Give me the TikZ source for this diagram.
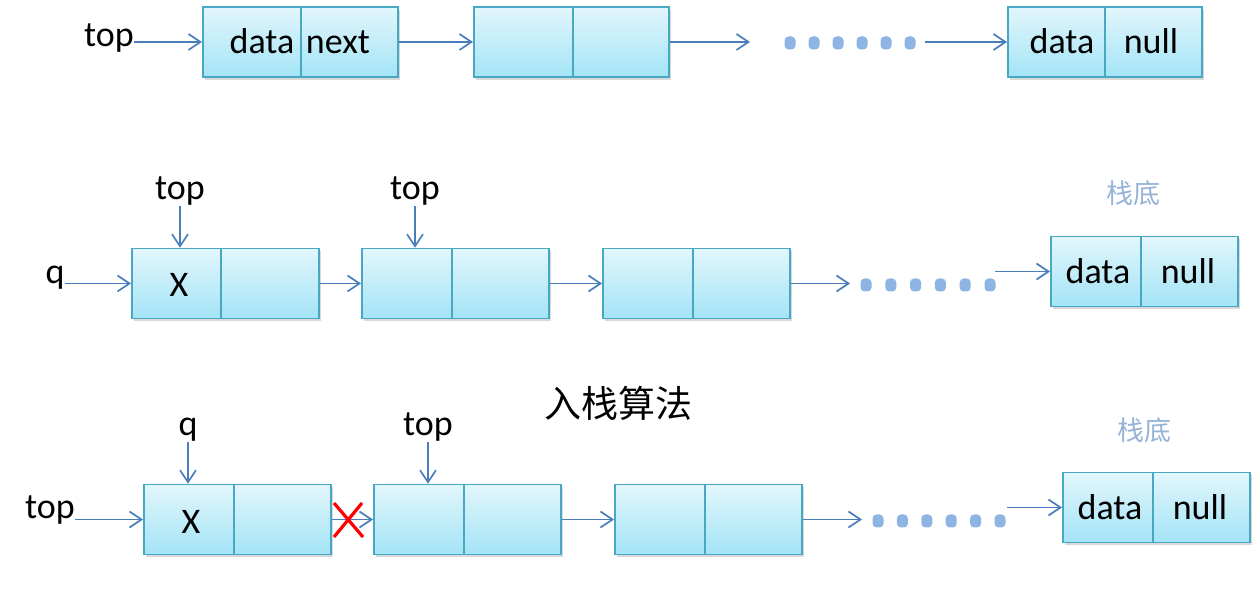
\documentclass[tikz,border=0pt]{standalone}
\usepackage{fontspec}
\setmainfont{Carlito}
\newfontfamily\cjk{Noto Sans CJK SC}
\usetikzlibrary{arrows.meta,shadows}
\definecolor{arrc}{RGB}{74,126,187}
\definecolor{boxc}{RGB}{72,168,194}
\definecolor{celltop}{RGB}{226,246,252}
\definecolor{cellbot}{RGB}{163,228,246}
\definecolor{dotc}{RGB}{141,180,226}
\definecolor{botc}{RGB}{149,179,215}
\begin{document}
\begin{tikzpicture}[x=0.5pt,y=-0.5pt,
 cell/.style={draw=boxc, line width=0.8pt, top color=celltop, bottom color=cellbot,
   minimum height=35pt, inner sep=0pt, anchor=west,
   drop shadow={shadow xshift=1pt, shadow yshift=-1.5pt, opacity=0.3}},
 arr/.style={draw=arrc, line width=0.85pt, -{Straight Barb[length=6pt,width=8pt,line width=0.85pt]}},
 lbl/.style={font=\fontsize{18}{20}\selectfont, inner sep=0pt, anchor=base},
 dotb/.style={fill=dotc, rounded corners=2pt, minimum width=5.5pt, minimum height=6.5pt, inner sep=0pt},
 cross/.style={draw=red, line width=1.6pt}
]
\useasboundingbox (0,0) rectangle (1260,593);

% ---------- Row 1 ----------
\node[cell, minimum width=49pt]   (r1a) at (202,42) {};
\node[cell, minimum width=48.5pt] (r1b) at (300,42) {};
\node[cell, minimum width=49.5pt] (r1c) at (473,42) {};
\node[cell, minimum width=48pt]   (r1d) at (572,42) {};
\node[cell, minimum width=48.5pt] (r1e) at (1007,42) {};
\node[cell, minimum width=48.5pt] (r1f) at (1104,42) {};
\node[lbl] (r1at) at (262,54) {data};
\node[lbl] (r1bt) at (338,54) {next};
\node[lbl] (r1et) at (1062,54) {data};
\node[lbl] (r1ft) at (1151,54) {null};
\node[lbl] (t1) at (109,47) {top};
\draw[arr] (t1.east |- r1a.west) -- (r1a.west);
\draw[arr] (r1b.east) -- (r1c.west);
\coordinate (e1) at (750,42);
\draw[arr] (r1d.east) -- (e1);
\foreach \i in {0,...,5} \node[dotb] (d1\i) at (790+24*\i,43) {};
\coordinate (s1) at (925,42);
\draw[arr] (s1) -- (r1e.west);

% ---------- Row 2 ----------
\node[cell, minimum width=44.5pt] (r2a) at (131,283.5) {};
\node[cell, minimum width=49pt]   (r2b) at (220,283.5) {};
\node[cell, minimum width=45pt]   (r2c) at (361,283.5) {};
\node[cell, minimum width=48.5pt] (r2d) at (451,283.5) {};
\node[cell, minimum width=45pt]   (r2e) at (602,283.5) {};
\node[cell, minimum width=48.5pt] (r2f) at (692,283.5) {};
\node[cell, minimum width=45pt]   (r2g) at (1050,271.5) {};
\node[cell, minimum width=48.5pt] (r2h) at (1140,271.5) {};
\node[lbl] (r2at) at (179,297) {X};
\node[lbl] (r2gt) at (1098,284) {data};
\node[lbl] (r2ht) at (1188,284) {null};
\node[lbl] (q2) at (55,284) {q};
\node[lbl] (t2a) at (180,200) {top};
\node[lbl] (t2b) at (415,200) {top};
\node[font=\cjk\fontsize{13.5}{15}\selectfont, text=botc, inner sep=0pt] (b2) at (1133,193) {栈底};
\draw[arr] (q2.east |- r2a.west) -- (r2a.west);
\draw[arr] (t2a.south) -- (t2a.south |- r2a.north);
\draw[arr] (t2b.south) -- (t2b.south |- r2c.north);
\draw[arr] (r2b.east) -- (r2c.west);
\draw[arr] (r2d.east) -- (r2e.west);
\coordinate (e2) at (850,283.5);
\draw[arr] (r2f.east) -- (e2);
\foreach \i in {0,...,5} \node[dotb] (d2\i) at (866+24.8*\i,285) {};
\coordinate (s2) at (995,271.5);
\draw[arr] (s2) -- (r2g.west);

% ---------- Title ----------
\node[font=\cjk\fontsize{18.5}{20}\selectfont, inner sep=0pt] (title) at (618,403) {入栈算法};

% ---------- Row 3 ----------
\node[cell, minimum width=45pt]   (r3a) at (143,519.5) {};
\node[cell, minimum width=48.5pt] (r3b) at (233,519.5) {};
\node[cell, minimum width=45pt]   (r3c) at (373,519.5) {};
\node[cell, minimum width=48.5pt] (r3d) at (463,519.5) {};
\node[cell, minimum width=45pt]   (r3e) at (614,519.5) {};
\node[cell, minimum width=48.5pt] (r3f) at (704,519.5) {};
\node[cell, minimum width=45pt]   (r3g) at (1062,507.5) {};
\node[cell, minimum width=48.5pt] (r3h) at (1152,507.5) {};
\node[lbl] (r3at) at (191,533) {X};
\node[lbl] (r3gt) at (1110,520) {data};
\node[lbl] (r3ht) at (1200,520) {null};
\node[lbl] (t3) at (50,519) {top};
\node[lbl] (q3) at (188,436) {q};
\node[lbl] (t3b) at (428,436) {top};
\node[font=\cjk\fontsize{13.5}{15}\selectfont, text=botc, inner sep=0pt] (b3) at (1144,430) {栈底};
\draw[arr] (t3.east |- r3a.west) -- (r3a.west);
\draw[arr] (q3.south) -- (q3.south |- r3a.north);
\draw[arr] (t3b.south) -- (t3b.south |- r3c.north);
\draw[arr] (r3b.east) -- (r3c.west);
\draw[cross] (334,503) -- (363,537) (362,503) -- (334,537);
\draw[arr] (r3d.east) -- (r3e.west);
\coordinate (e3) at (862,519.5);
\draw[arr] (r3f.east) -- (e3);
\foreach \i in {0,...,5} \node[dotb] (d3\i) at (878+24.4*\i,521) {};
\coordinate (s3) at (1007,507.5);
\draw[arr] (s3) -- (r3g.west);
\end{tikzpicture}
\end{document}
